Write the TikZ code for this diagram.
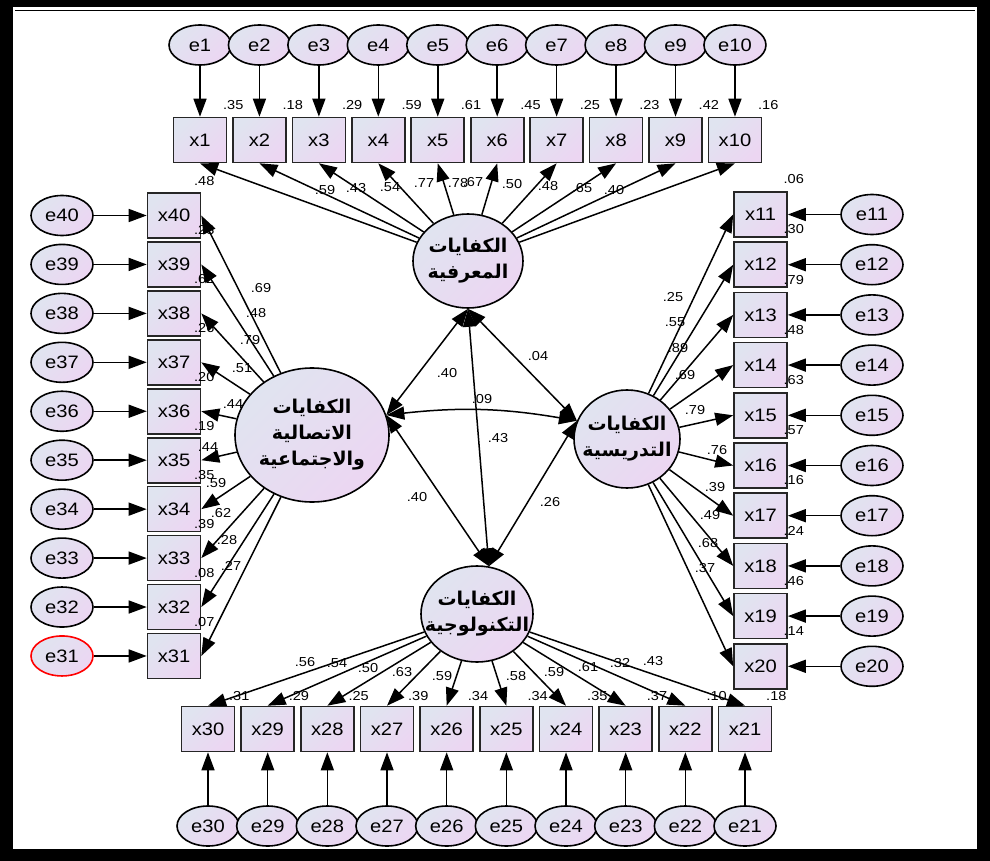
\documentclass[tikz,border=0pt]{standalone}
\usepackage{fontspec}
\setmainfont[FakeStretch=1.12]{Liberation Sans}
\newfontfamily\arabicfont[Script=Arabic]{DejaVu Sans}
\TeXXeTstate=1
\usetikzlibrary{arrows.meta,shapes.geometric,calc}

\definecolor{shadeA}{RGB}{224,228,240}
\definecolor{shadeB}{RGB}{236,214,242}
\newcommand{\arline}[1]{\makebox[0pt]{\beginR #1\endR}}

\tikzset{
  obs/.style={rectangle, draw=black!85, line width=1.6pt, minimum width=53pt, minimum height=45pt,
    inner sep=0pt, top color=shadeA, bottom color=shadeB, shading angle=45, font=\fontsize{18}{18}\selectfont},
  err/.style={ellipse, draw, line width=1.6pt, minimum width=62pt, minimum height=40pt,
    inner sep=0pt, top color=shadeA, bottom color=shadeB, shading angle=45, font=\fontsize{18}{18}\selectfont},
  lat/.style={ellipse, draw, line width=1.6pt, inner sep=0pt, top color=shadeA, bottom color=shadeB,
    shading angle=45, align=center, font=\arabicfont\bfseries\fontsize{19}{26}\selectfont},
  num/.style={inner sep=0pt, font=\fontsize{13}{13}\selectfont},
  regr/.style={line width=1.5pt, -{Triangle[length=18pt,width=13pt]}},
  cov/.style={line width=1.5pt, {Triangle[length=18pt,width=13pt]}-{Triangle[length=18pt,width=13pt]}},
}

\begin{document}
\begin{tikzpicture}[x=1pt,y=-1pt]
  \useasboundingbox (0,0) rectangle (990,861);
  % frame
  \fill[black] (0,0) rectangle (990,861);
  \fill[white] (13,7) rectangle (977,849);
  \draw[line width=1pt] (15,10.5) -- (975,10.5);

  % latent factors
  \node[lat, minimum width=110pt, minimum height=94pt] (cogn) at (468,261)
    {\arline{الكفايات}\\\arline{المعرفية}};
  \node[lat, minimum width=154pt, minimum height=134pt] (comm) at (312,435)
    {\arline{الكفايات}\\\arline{الاتصالية}\\\arline{والاجتماعية}};
  \node[lat, minimum width=106pt, minimum height=98pt] (teach) at (627,439)
    {\arline{الكفايات}\\\arline{التدريسية}};
  \node[lat, minimum width=112pt, minimum height=96pt] (tech) at (477,614)
    {\arline{الكفايات}\\\arline{التكنولوجية}};

  % top row x1..x10
  \foreach \i/\rsq/\lod/\lx/\ly in {1/.35/.59/325/190, 2/.18/.43/356/188, 3/.29/.54/390/187,
      4/.59/.77/424/183, 5/.61/.78/458/183, 6/.45/.67/473/182, 7/.25/.50/512/184,
      8/.23/.48/548/186, 9/.42/.65/582/188, 10/.16/.40/614/190} {
    \pgfmathsetmacro\px{200+59.44*(\i-1)}
    \node[obs] (x\i) at (\px,140) {x\i};
    \node[err] (e\i) at (\px,45) {e\i};
    \draw[regr] (e\i) -- (x\i);
    \draw[regr] (cogn) -- (x\i.south);
    \node[num] at ($(x\i.north east)+(6,-12)$) {\rsq};
    \node[num] at (\lx,\ly) {\lod};
  }

  % left column x40..x31
  \foreach \i/\rsq/\lod/\lx/\ly/\ec in {40/.48/.69/261/288/black, 39/.23/.48/256/313/black,
      38/.62/.79/250/340/black, 37/.26/.51/242/368/black, 36/.20/.44/233/404/black,
      35/.19/.44/208/447/black, 34/.35/.59/216/483/black, 33/.39/.62/221/513/black,
      32/.08/.28/227/540/black, 31/.07/.27/231/566/red} {
    \pgfmathsetmacro\py{215.5+48.94*(40-\i)}
    \node[obs] (x\i) at (174,\py) {x\i};
    \node[err, draw=\ec] (e\i) at (62,\py) {e\i};
    \draw[regr] (e\i) -- (x\i);
    \draw[regr] (comm) -- (x\i.east);
    \node[num] at ($(x\i.north east)+(3,-11)$) {\rsq};
    \node[num] at (\lx,\ly) {\lod};
  }

  % right column x11..x20
  \foreach \i/\rsq/\lod/\lx/\ly in {11/.06/.25/673/297, 12/.30/.55/675/322, 13/.79/.89/678/348,
      14/.48/.69/685/375, 15/.63/.79/695/410, 16/.57/.76/717/450, 17/.16/.39/715/487,
      18/.24/.49/710/515, 19/.46/.68/708/543, 20/.14/.37/705/568} {
    \pgfmathsetmacro\py{214.5+50.2*(\i-11)}
    \node[obs] (x\i) at (760.5,\py) {x\i};
    \node[err] (e\i) at (872,\py) {e\i};
    \draw[regr] (e\i) -- (x\i);
    \draw[regr] (teach) -- (x\i.west);
    \node[num] at ($(x\i.north east)+(6,-12)$) {\rsq};
    \node[num] at (\lx,\ly) {\lod};
  }

  % bottom row x30..x21
  \foreach \i/\rsq/\lod/\lx/\ly in {30/.31/.56/305/662, 29/.29/.54/337/663, 28/.25/.50/368/668,
      27/.39/.63/402/672, 26/.34/.59/442/676, 25/.34/.58/516/676, 24/.35/.59/554/672,
      23/.37/.61/588/667, 22/.10/.32/620/663, 21/.18/.43/653/661} {
    \pgfmathsetmacro\px{208+59.67*(30-\i)}
    \node[obs] (x\i) at (\px,729) {x\i};
    \node[err] (e\i) at (\px,826) {e\i};
    \draw[regr] (e\i) -- (x\i);
    \draw[regr] (tech) -- (x\i.north);
    \node[num] at ($(x\i.north east)+(4,-10)$) {\rsq};
    \node[num] at (\lx,\ly) {\lod};
  }

  % covariances between the factors
  \draw[cov] (cogn.south) -- (comm.15);
  \draw[cov] (cogn.south) -- (teach.160);
  \draw[cov] (cogn.south) -- (tech.76);
  \draw[cov] (comm.15) to[bend left=8] (teach.160);
  \draw[cov] (comm.15) -- (tech.76);
  \draw[cov] (teach.160) -- (tech.76);
  \node[num] at (447,373) {.40};
  \node[num] at (538,356) {.04};
  \node[num] at (482,399) {.09};
  \node[num] at (498,438) {.43};
  \node[num] at (417,497) {.40};
  \node[num] at (550,502) {.26};
\end{tikzpicture}
\end{document}
